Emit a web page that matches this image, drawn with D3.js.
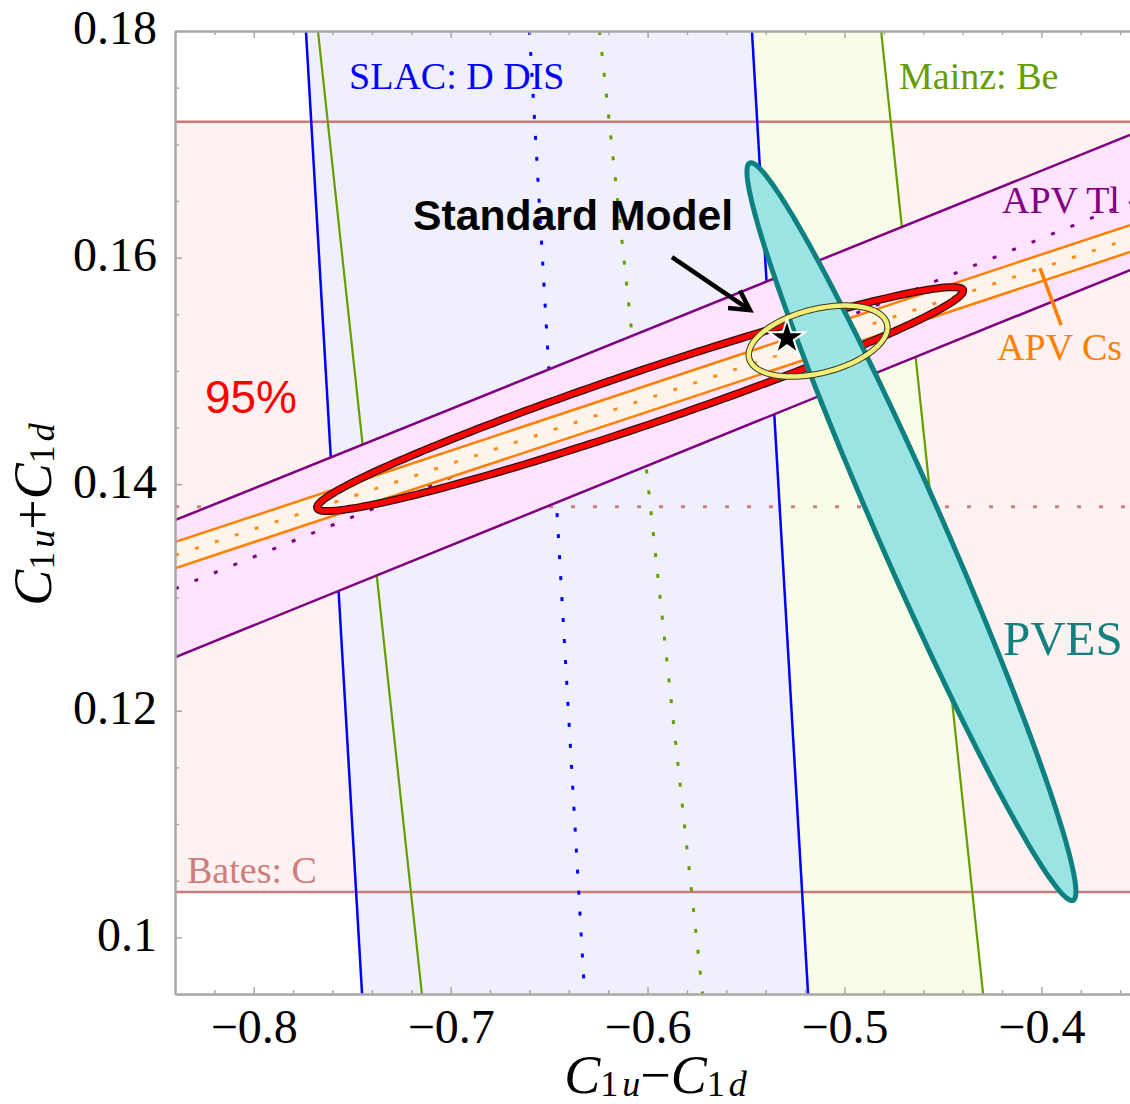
<!doctype html>
<html lang="en">
<head>
<meta charset="utf-8">
<script src="https://d3js.org/d3.v7.min.js"></script>
<title>C1u-C1d vs C1u+C1d</title>
<style>
  body { margin: 0; background: #fff; }
  svg { display: block; }
</style>
</head>
<body>
<svg id="chart"></svg>
<script>
// axes
const xDomain = [-0.84, -0.355];
const yDomain = [0.095, 0.18];
const xTicks = [-0.8, -0.7, -0.6, -0.5, -0.4];
const yTicks = [0.10, 0.12, 0.14, 0.16, 0.18];
const xMinorTicks = [-0.82, -0.78, -0.76, -0.74, -0.72, -0.68, -0.66, -0.64, -0.62,
                     -0.58, -0.56, -0.54, -0.52, -0.48, -0.46, -0.44, -0.42, -0.38, -0.36];
const yMinorTicks = [0.105, 0.11, 0.115, 0.125, 0.13, 0.135, 0.145, 0.15, 0.155,
                     0.165, 0.17, 0.175];

// Bates: C (horizontal band)
const batesLimits = [0.104, 0.172];
const batesCentral = 0.138;

// SLAC: D DIS (lines read at top and bottom of plot)
const slacLeft   = [[-0.7735, 0.18], [-0.745, 0.095]];
const slacRight  = [[-0.547, 0.18], [-0.5185, 0.095]];
const slacCentre = [[-0.660, 0.18], [-0.632, 0.095]];

// Mainz: Be
const mainzLeft   = [[-0.7674, 0.18], [-0.7146, 0.095]];
const mainzRight  = [[-0.4814, 0.18], [-0.4296, 0.095]];
const mainzCentre = [[-0.6244, 0.18], [-0.5721, 0.095]];

// APV Tl (lines read at left and right edges)
const tlUpper  = [[-0.84, 0.13682], [-0.355, 0.17082]];
const tlLower  = [[-0.84, 0.12472], [-0.355, 0.15890]];
const tlCentre = [[-0.84, 0.13077], [-0.355, 0.16486]];

// APV Cs
const csUpper  = [[-0.84, 0.13488], [-0.355, 0.16287]];
const csLower  = [[-0.84, 0.13258], [-0.355, 0.16049]];
const csCentre = [[-0.84, 0.13373], [-0.355, 0.16168]];

// ellipses: centre, end of major semi-axis, end of minor semi-axis
const fitEllipse  = [[-0.6038, 0.14751], [-0.4398, 0.15713], [-0.5995, 0.14525]];
const pvesEllipse = [[-0.4660, 0.13581], [-0.3839, 0.10327], [-0.4506, 0.13697]];
const smEllipse   = [[-0.5134, 0.15263], [-0.4784, 0.15415], [-0.5095, 0.14989]];

// Standard Model point
const smPoint = [-0.5292, 0.1529];
const arrowLine = [[-0.5876, 0.16004], [-0.5480, 0.15536]];
const csMarker = [[-0.4007, 0.15907], [-0.3900, 0.15404]];

// labels
const labelText = ["SLAC: D DIS", "Mainz: Be", "APV Tl", "APV Cs", "Bates: C", "PVES"];
const labelAt = [[-0.7516, 0.17488], [-0.4723, 0.17488], [-0.4200, 0.16393],
                 [-0.4225, 0.15095], [-0.8339, 0.10477], [-0.4195, 0.1249]];

let width = 955, height = 963;
let margin = { top: 31, right: 0, bottom: 110, left: 175 };

const svg = d3.select("#chart")
  .attr("width", width + margin.left + margin.right)
  .attr("height", height + margin.top + margin.bottom);

const x = d3.scaleLinear().domain(xDomain).range([margin.left, margin.left + width]);
const y = d3.scaleLinear().domain(yDomain).range([margin.top + height, margin.top]);

const line = d3.line().x(d => x(d[0])).y(d => y(d[1]));
const serif = "'Liberation Serif', 'Times New Roman', serif";
const sans = "'Liberation Sans', Arial, sans-serif";

svg.append("clipPath").attr("id", "plotclip")
  .append("rect")
  .attr("x", margin.left).attr("y", margin.top)
  .attr("width", width).attr("height", height);

const plot = svg.append("g").attr("clip-path", "url(#plotclip)");

function band(a, b) {
  return line([a[0], a[1], b[1], b[0]]) + "Z";
}

function ellipse(e, n = 240) {
  const [c, a, b] = e;
  const pts = d3.range(n).map(i => {
    const t = 2 * Math.PI * i / n;
    return [c[0] + (a[0] - c[0]) * Math.cos(t) + (b[0] - c[0]) * Math.sin(t),
            c[1] + (a[1] - c[1]) * Math.cos(t) + (b[1] - c[1]) * Math.sin(t)];
  });
  return line(pts) + "Z";
}

// band fills
plot.append("path")
  .attr("d", band([[xDomain[0], batesLimits[0]], [xDomain[1], batesLimits[0]]],
                  [[xDomain[0], batesLimits[1]], [xDomain[1], batesLimits[1]]]))
  .attr("fill", "#fdf1f1");
plot.append("path").attr("d", band(mainzLeft, mainzRight)).attr("fill", "#f8fde7");
plot.append("path").attr("d", band(slacLeft, slacRight)).attr("fill", "#f0f0fd");

// Bates lines
batesLimits.forEach(v => {
  plot.append("path").attr("d", line([[xDomain[0], v], [xDomain[1], v]]))
    .attr("stroke", "#cc7b7b").attr("stroke-width", 2.5).attr("fill", "none");
});
plot.append("path").attr("d", line([[xDomain[0], batesCentral], [xDomain[1], batesCentral]]))
  .attr("stroke", "#cc8080").attr("stroke-width", 3).attr("fill", "none")
  .attr("stroke-dasharray", "4 18");

// SLAC + Mainz lines
[slacLeft, slacRight].forEach(l => plot.append("path").attr("d", line(l))
  .attr("stroke", "#0000ff").attr("stroke-width", 2.5).attr("fill", "none"));
plot.append("path").attr("d", line(slacCentre))
  .attr("stroke", "#0000ff").attr("stroke-width", 3).attr("fill", "none")
  .attr("stroke-dasharray", "4 17");
[mainzLeft, mainzRight].forEach(l => plot.append("path").attr("d", line(l))
  .attr("stroke", "#669c00").attr("stroke-width", 2.2).attr("fill", "none"));
plot.append("path").attr("d", line(mainzCentre))
  .attr("stroke", "#669c00").attr("stroke-width", 3).attr("fill", "none")
  .attr("stroke-dasharray", "4 17");

// APV Tl
plot.append("path").attr("d", band(tlUpper, tlLower)).attr("fill", "#fde3fc");
plot.append("path").attr("d", line(tlCentre))
  .attr("stroke", "#800080").attr("stroke-width", 3).attr("fill", "none")
  .attr("stroke-dasharray", "4 17");
// APV Cs
plot.append("path").attr("d", band(csUpper, csLower)).attr("fill", "#fff4ea");
plot.append("path").attr("d", line(csCentre))
  .attr("stroke", "#ff8c1a").attr("stroke-width", 3).attr("fill", "none")
  .attr("stroke-dasharray", "4 17");
[csUpper, csLower].forEach(l => plot.append("path").attr("d", line(l))
  .attr("stroke", "#ff8000").attr("stroke-width", 2.5).attr("fill", "none"));
[tlUpper, tlLower].forEach(l => plot.append("path").attr("d", line(l))
  .attr("stroke", "#800080").attr("stroke-width", 2.5).attr("fill", "none"));

// combined fit (red)
plot.append("path").attr("d", ellipse(fitEllipse))
  .attr("fill", "none").attr("stroke", "#2a1010").attr("stroke-width", 8);
plot.append("path").attr("d", ellipse(fitEllipse))
  .attr("fill", "none").attr("stroke", "#ff0000").attr("stroke-width", 5.5);

// PVES
plot.append("path").attr("d", ellipse(pvesEllipse))
  .attr("fill", "#9ae5e4").attr("stroke", "#0f8080").attr("stroke-width", 5);

// Standard Model ellipse (yellow)
plot.append("path").attr("d", ellipse(smEllipse))
  .attr("fill", "none").attr("stroke", "#3a3a20").attr("stroke-width", 6.5);
plot.append("path").attr("d", ellipse(smEllipse))
  .attr("fill", "none").attr("stroke", "#f3ee7a").attr("stroke-width", 4.5);

// star
plot.append("path")
  .attr("d", d3.symbol(d3.symbolStar).size(400)())
  .attr("transform", `translate(${x(smPoint[0])},${y(smPoint[1])})`)
  .attr("fill", "#000").attr("stroke", "#fff").attr("stroke-width", 2);

// APV Cs marker
plot.append("path").attr("d", line(csMarker))
  .attr("stroke", "#ff8000").attr("stroke-width", 3.5).attr("fill", "none");

// arrow
const a0 = [x(arrowLine[0][0]), y(arrowLine[0][1])];
const a1 = [x(arrowLine[1][0]), y(arrowLine[1][1])];
const ang = Math.atan2(a1[1] - a0[1], a1[0] - a0[0]);
const head = [-0.5, 0.5].map(da => [a1[0] - 22 * Math.cos(ang + da), a1[1] - 22 * Math.sin(ang + da)]);
plot.append("path").attr("d", `M${a0}L${a1}`)
  .attr("stroke", "#000").attr("stroke-width", 4.5).attr("fill", "none");
plot.append("path").attr("d", `M${head[0]}L${a1}L${head[1]}`)
  .attr("stroke", "#000").attr("stroke-width", 4.5).attr("fill", "none")
  .attr("stroke-linejoin", "miter");

// labels
const labelColor = ["#0000ff", "#669c00", "#800080", "#ff8000", "#cf7c7c", "#138080"];
const labelSize = [38, 38, 38, 38, 38, 49];
labelText.forEach((t, i) => {
  svg.append("text")
    .attr("x", x(labelAt[i][0])).attr("y", y(labelAt[i][1]))
    .attr("font-family", serif).attr("font-size", labelSize[i])
    .attr("fill", labelColor[i]).text(t);
});

svg.append("text")
  .attr("x", x(-0.8248)).attr("y", y(0.14627))
  .attr("font-family", sans).attr("font-size", 46)
  .attr("fill", "#ff0000").text("95%");

svg.append("text")
  .attr("x", x(-0.7191)).attr("y", y(0.16243))
  .attr("font-family", sans).attr("font-size", 42.7).attr("font-weight", "bold")
  .attr("fill", "#000").text("Standard Model");

// frame + ticks
const frameColor = "#a8a8a8";
function styleAxis(g) {
  g.selectAll(".domain").attr("stroke", frameColor).attr("stroke-width", 2);
  g.selectAll(".tick line").attr("stroke", frameColor).attr("stroke-width", 1.5);
}

const fmtX = d => "\u2212" + Math.abs(d).toFixed(1);
const fmtY = d => String(+d.toFixed(2));

const xAxis = svg.append("g")
  .attr("transform", `translate(0,${margin.top + height})`)
  .call(d3.axisBottom(x).tickValues(xTicks).tickFormat(fmtX).tickSize(-7).tickSizeOuter(0).tickPadding(15));
const xMinor = svg.append("g")
  .attr("transform", `translate(0,${margin.top + height})`)
  .call(d3.axisBottom(x).tickValues(xMinorTicks).tickFormat("").tickSize(-4).tickSizeOuter(0));
const xTop = svg.append("g")
  .attr("transform", `translate(0,${margin.top})`)
  .call(d3.axisTop(x).tickValues(xTicks).tickFormat("").tickSize(-7).tickSizeOuter(0));
const xTopMinor = svg.append("g")
  .attr("transform", `translate(0,${margin.top})`)
  .call(d3.axisTop(x).tickValues(xMinorTicks).tickFormat("").tickSize(-4).tickSizeOuter(0));
const yAxis = svg.append("g")
  .attr("transform", `translate(${margin.left},0)`)
  .call(d3.axisLeft(y).tickValues(yTicks).tickFormat(fmtY).tickSize(-7).tickSizeOuter(0).tickPadding(18));
const yMinor = svg.append("g")
  .attr("transform", `translate(${margin.left},0)`)
  .call(d3.axisLeft(y).tickValues(yMinorTicks).tickFormat("").tickSize(-4).tickSizeOuter(0));

[xAxis, xMinor, xTop, xTopMinor, yAxis, yMinor].forEach(styleAxis);

[xAxis, yAxis].forEach(g => g.selectAll("text")
  .attr("font-family", serif).attr("font-size", 48).attr("fill", "#000"));
yAxis.selectAll("text").attr("dy", "0.27em");

// axis titles
const xt = svg.append("text")
  .attr("x", margin.left + width / 2 + 3).attr("y", 1093)
  .attr("text-anchor", "middle")
  .attr("font-family", serif).attr("font-size", 54);
xt.append("tspan").attr("font-style", "italic").text("C");
xt.append("tspan").attr("font-size", 36).attr("dy", 3).text("1");
xt.append("tspan").attr("font-size", 36).attr("font-style", "italic").attr("dx", 4).text("u");
xt.append("tspan").attr("dy", -3).text("\u2212");
xt.append("tspan").attr("font-style", "italic").text("C");
xt.append("tspan").attr("font-size", 36).attr("dy", 3).text("1");
xt.append("tspan").attr("font-size", 36).attr("font-style", "italic").attr("dx", 4).text("d");

const yt = svg.append("text")
  .attr("transform", `translate(51,${margin.top + height / 2 + 2}) rotate(-90)`)
  .attr("text-anchor", "middle")
  .attr("font-family", serif).attr("font-size", 54);
yt.append("tspan").attr("font-style", "italic").text("C");
yt.append("tspan").attr("font-size", 36).attr("dy", 3).text("1");
yt.append("tspan").attr("font-size", 36).attr("font-style", "italic").attr("dx", 4).text("u");
yt.append("tspan").attr("dy", -3).text("+");
yt.append("tspan").attr("font-style", "italic").text("C");
yt.append("tspan").attr("font-size", 36).attr("dy", 3).text("1");
yt.append("tspan").attr("font-size", 36).attr("font-style", "italic").attr("dx", 4).text("d");
</script>
</body>
</html>
